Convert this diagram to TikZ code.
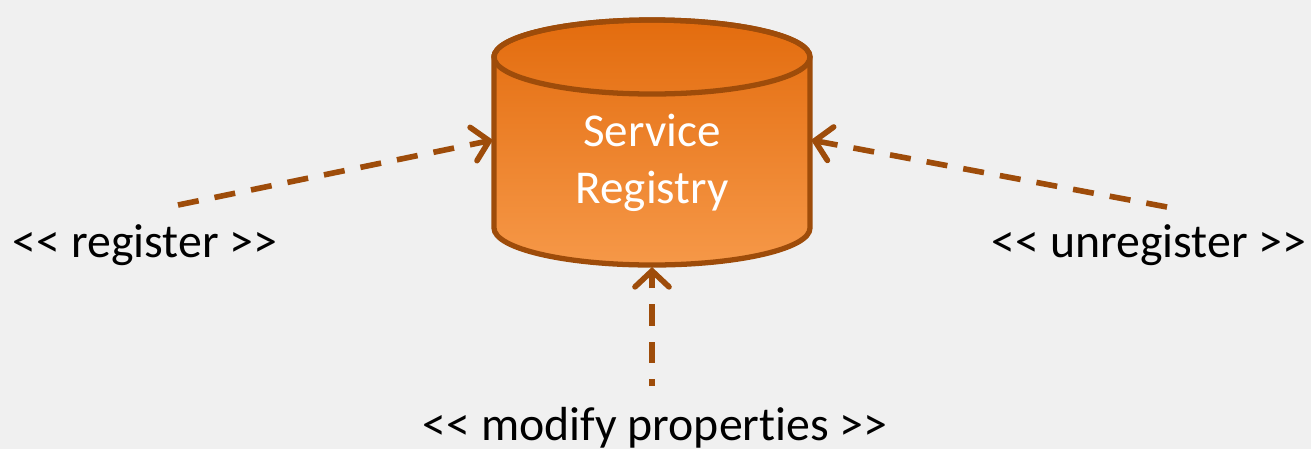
\documentclass[tikz,border=0pt]{standalone}
\usepackage{fontspec}
\setmainfont{Carlito}[Ligatures={TeXOff,NoCommon}]
\usetikzlibrary{arrows.meta}
\definecolor{regbrown}{RGB}{158,76,10}
\definecolor{regtop}{RGB}{227,108,14}
\definecolor{regbot}{RGB}{246,152,72}
\definecolor{bggray}{RGB}{240,240,240}
\tikzset{
    call/.style={draw=regbrown, line width=1.6pt, dash pattern=on 6pt off 4.6pt,
        -{Straight Barb[length=1.6mm,width=3.4mm,line cap=round]}},
    stereo/.style={anchor=base, font=\fontsize{13.6}{16}\selectfont},
}
\begin{document}
\begin{tikzpicture}
        % background
        \fill [bggray] (0,0) rectangle (13.11,4.49);
        \useasboundingbox (0,0) rectangle (13.11,4.49);
        % registry
        \shade [top color=regtop, bottom color=regbot, draw=regbrown, line width=1.5pt]
            (4.94,3.92) -- (4.94,2.21) arc (180:360:1.58 and 0.37) -- (8.10,3.92)
            arc (0:180:1.58 and 0.37) -- cycle;
        \draw [regbrown, line width=1.5pt] (6.52,3.92) ellipse (1.58 and 0.37);
        \node (registry) [align=center, text=white, font=\fontsize{13.4}{16.2}\selectfont]
            at (6.52,2.86) {Service\\Registry};
        \coordinate (regleft) at (4.93,3.09);
        \coordinate (regright) at (8.11,3.09);
        \coordinate (regbottom) at (6.52,1.82);
        % register
        \node (register) [stereo] at (1.45,1.92) {<< register >>};
        \coordinate (registerend) at (1.78,2.44);
        \draw [call] (registerend) -- (regleft);
        % unregister
        \node (unregister) [stereo] at (11.49,1.92) {<< unregister >>};
        \coordinate (unregisterend) at (11.67,2.42);
        \draw [call] (unregisterend) -- (regright);
        % modify properties
        \node (modify) [stereo] at (6.55,0.09) {<< modify properties >>};
        \coordinate (modifyend) at (6.52,0.63);
        \draw [call, dash phase=4pt] (modifyend) -- (regbottom);
\end{tikzpicture}
\end{document}
